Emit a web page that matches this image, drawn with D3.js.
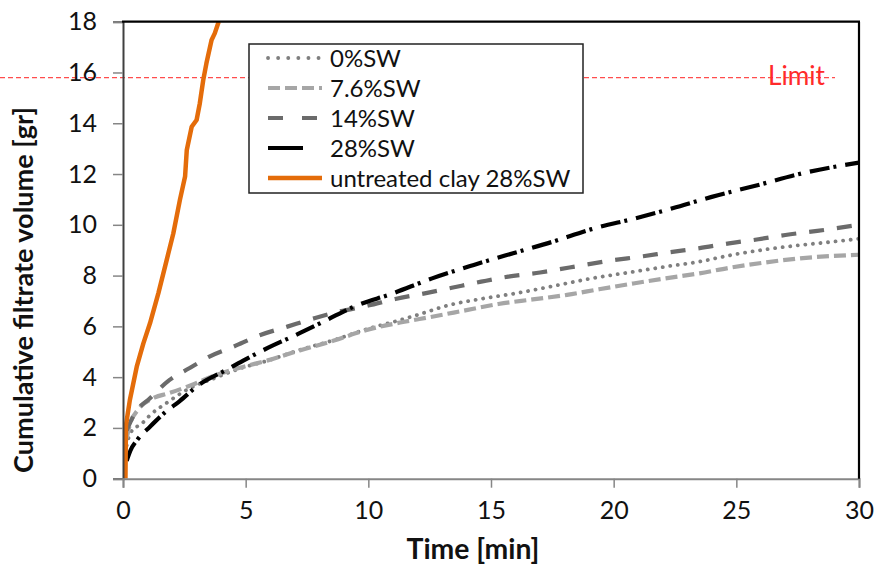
<!DOCTYPE html>
<html>
<head>
<meta charset="utf-8">
<script src="https://cdn.jsdelivr.net/npm/d3@7"></script>
<style>
  html, body { margin: 0; padding: 0; background: #fff; }
  svg { display: block; }
  text { font-family: Lato, "Open Sans", sans-serif; }
</style>
</head>
<body>
<svg id="chart" width="875" height="567"></svg>
<script>
// ---------------- data ----------------
const xTicks = [0, 5, 10, 15, 20, 25, 30];
const yTicks = [0, 2, 4, 6, 8, 10, 12, 14, 16, 18];
const limitValue = 15.8;
const limitLabel = "Limit";
const xTitle = "Time [min]";
const yTitle = "Cumulative filtrate volume [gr]";

const seriesNames = ["0%SW", "7.6%SW", "14%SW", "28%SW", "untreated clay 28%SW"];

const t0 = [0.15, 0.3, 0.8, 1.1, 1.8, 2.6, 3.7, 4.8, 5.9, 7.2, 8.6, 9.9, 11.3, 12.0, 13.3, 14.7, 16.0, 17.4, 19.1, 20.8, 22.1, 23.5, 24.8, 26.2, 27.6, 28.9, 30];
const v0 = [1.3, 1.8, 2.2, 2.5, 3.0, 3.5, 3.95, 4.35, 4.65, 5.07, 5.46, 5.88, 6.25, 6.45, 6.84, 7.1, 7.3, 7.56, 7.89, 8.15, 8.35, 8.55, 8.81, 9.03, 9.2, 9.33, 9.45];

const t76 = [0.15, 0.3, 0.6, 1.3, 1.8, 2.8, 3.7, 4.8, 5.9, 7.2, 8.6, 9.9, 11.3, 12.6, 14.0, 15.3, 16.7, 18.1, 19.4, 20.8, 22.1, 23.5, 24.8, 26.2, 27.6, 30];
const v76 = [1.6, 2.2, 2.7, 3.2, 3.35, 3.69, 4.05, 4.38, 4.66, 5.05, 5.44, 5.85, 6.15, 6.38, 6.64, 6.88, 7.06, 7.24, 7.46, 7.69, 7.89, 8.09, 8.32, 8.52, 8.68, 8.82];

const t14 = [0.15, 0.5, 1.1, 1.9, 2.7, 3.5, 4.5, 5.6, 6.7, 7.8, 8.8, 10.0, 11.1, 12.4, 13.4, 14.6, 15.7, 17.0, 18.2, 19.8, 21.2, 22.3, 23.5, 24.7, 25.9, 27.0, 28.3, 30];
const v14 = [1.9, 2.6, 3.17, 3.89, 4.35, 4.8, 5.2, 5.66, 5.99, 6.32, 6.58, 6.82, 7.08, 7.32, 7.52, 7.76, 7.96, 8.12, 8.32, 8.58, 8.76, 8.92, 9.08, 9.27, 9.43, 9.6, 9.76, 10.0];

const t28 = [0.15, 0.3, 0.6, 1.1, 1.7, 2.3, 3.1, 4.2, 4.9, 5.9, 7.2, 8.3, 9.4, 11.0, 12.6, 14.3, 15.9, 17.5, 19.1, 20.9, 22.4, 24.0, 25.9, 27.7, 30];
const v28 = [0.7, 1.1, 1.55, 2.05, 2.6, 3.05, 3.7, 4.28, 4.65, 5.15, 5.73, 6.25, 6.77, 7.3, 7.89, 8.42, 8.88, 9.33, 9.83, 10.26, 10.65, 11.1, 11.57, 12.03, 12.45];

const tU = [0.1, 0.12, 0.28, 0.56, 0.83, 1.1, 1.44, 1.78, 2.05, 2.32, 2.53, 2.6, 2.8, 3.0, 3.13, 3.27, 3.4, 3.61, 3.74, 3.9];
const vU = [0, 2.1, 3.1, 4.41, 5.33, 6.12, 7.3, 8.61, 9.66, 10.98, 11.9, 12.95, 13.86, 14.13, 14.78, 15.7, 16.36, 17.28, 17.54, 18];

// ---------------- styles ----------------
const styles = [
  { color: "#7f7f7f", width: 3.8, dash: "0.1,7.5", cap: "round" },
  { color: "#a6a6a6", width: 4.2, dash: "12,5", cap: "butt" },
  { color: "#6b6b6b", width: 4.2, dash: "15,13", cap: "butt" },
  { color: "#000000", width: 4.2, dash: "20,4,3,9", cap: "butt" },
  { color: "#e46c0a", width: 4.5, dash: null, cap: "butt" }
];
const seriesData = [[t0, v0], [t76, v76], [t14, v14], [t28, v28], [tU, vU]];

// ---------------- layout ----------------
const svg = d3.select("#chart");
const pLeft = 123, pRight = 859, pTop = 21.7, pBottom = 478.7;
const x = d3.scaleLinear().domain([0, 30]).range([pLeft, pRight]);
const y = d3.scaleLinear().domain([0, 18]).range([pBottom, pTop]);

svg.append("defs").append("clipPath").attr("id", "plotClip")
  .append("rect").attr("x", pLeft).attr("y", pTop).attr("width", pRight - pLeft).attr("height", pBottom - pTop);

// limit line
svg.append("line")
  .attr("x1", 0).attr("x2", 835)
  .attr("y1", y(limitValue)).attr("y2", y(limitValue))
  .attr("stroke", "#ff4d4d").attr("stroke-width", 1.2).attr("stroke-dasharray", "5,3");

// series
const smooth = d3.line().x(d => x(d[0])).y(d => y(d[1])).curve(d3.curveMonotoneX);
const straight = d3.line().x(d => x(d[0])).y(d => y(d[1]));
const plot = svg.append("g").attr("clip-path", "url(#plotClip)");
seriesData.forEach((sd, i) => {
  const pts = sd[0].map((t, j) => [t, sd[1][j]]);
  const s = styles[i];
  plot.append("path")
    .attr("d", i === 4 ? straight(pts) : smooth(pts))
    .attr("fill", "none")
    .attr("stroke", s.color)
    .attr("stroke-width", s.width)
    .attr("stroke-linecap", s.cap)
    .attr("stroke-linejoin", "round")
    .attr("stroke-dasharray", s.dash);
});

// axes
const yAxis = d3.axisLeft(y).tickValues(yTicks).tickSize(10).tickPadding(16).tickFormat(d3.format("d"));
const gy = svg.append("g").attr("transform", `translate(${pLeft},0)`).call(yAxis);
gy.select(".domain").attr("stroke", "#404040").attr("stroke-width", 2);
gy.selectAll(".tick line").attr("stroke", "#868686").attr("stroke-width", 1.5);
gy.selectAll(".tick text").attr("font-size", 25).attr("fill", "#111").attr("font-family", "Lato, 'Open Sans', sans-serif");

const xAxis = d3.axisBottom(x).tickValues(xTicks).tickSize(9).tickPadding(14).tickFormat(d3.format("d"));
const gx = svg.append("g").attr("transform", `translate(0,${pBottom})`).call(xAxis);
gx.select(".domain").attr("stroke", "#868686").attr("stroke-width", 2);
gx.selectAll(".tick line").attr("stroke", "#868686").attr("stroke-width", 1.5);
gx.selectAll(".tick text").attr("font-size", 25).attr("fill", "#111").attr("font-family", "Lato, 'Open Sans', sans-serif");

// top & right border
svg.append("line").attr("x1", pLeft - 1).attr("x2", pRight + 1).attr("y1", pTop).attr("y2", pTop)
  .attr("stroke", "#000").attr("stroke-width", 2.2);
svg.append("line").attr("x1", pRight).attr("x2", pRight).attr("y1", pTop).attr("y2", pBottom)
  .attr("stroke", "#000").attr("stroke-width", 2.2);

function fit(sel, target) {
  const w = sel.node().getComputedTextLength();
  const fs = parseFloat(sel.attr("font-size"));
  if (w > 0) sel.attr("font-size", fs * target / w);
}

// limit label
const lim = svg.append("text").attr("x", 825).attr("y", y(limitValue) + 7)
  .attr("text-anchor", "end").attr("font-size", 24).attr("fill", "#ff2a2a").text(limitLabel);
fit(lim, 57);

// axis titles
const xt = svg.append("text").attr("x", 473).attr("y", 559)
  .attr("text-anchor", "middle").attr("font-size", 24).attr("font-weight", "bold").attr("fill", "#111").text(xTitle);
fit(xt, 133);
const yt = svg.append("text").attr("transform", "translate(33,290) rotate(-90)")
  .attr("text-anchor", "middle").attr("font-size", 24).attr("font-weight", "bold").attr("fill", "#111").text(yTitle);
fit(yt, 366);

// legend
const lg = svg.append("g");
lg.append("rect").attr("x", 249).attr("y", 44).attr("width", 334).attr("height", 149)
  .attr("fill", "#fff").attr("stroke", "#222").attr("stroke-width", 1.5);
seriesNames.forEach((name, i) => {
  const cy = 58 + i * 30;
  const s = styles[i];
  let dash = s.dash;
  if (i === 0) dash = "0.1,10";
  if (i === 3) dash = "35,21,3,10";
  if (i === 2) dash = "15,19";
  lg.append("line").attr("x1", 268).attr("x2", 322).attr("y1", cy).attr("y2", cy)
    .attr("stroke", s.color).attr("stroke-width", s.width).attr("stroke-linecap", s.cap)
    .attr("stroke-dasharray", dash);
  lg.append("text").attr("x", 330).attr("y", cy + 8.5).attr("font-size", 24).attr("fill", "#111").text(name);
});
</script>
</body>
</html>
